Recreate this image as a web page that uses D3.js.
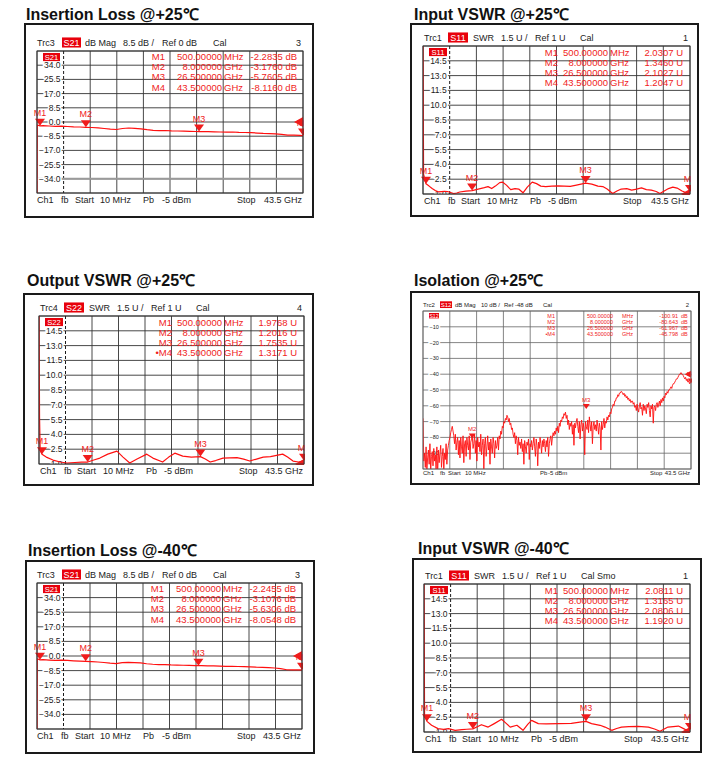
<!DOCTYPE html>
<html>
<head>
<meta charset="utf-8">
<script src="https://cdn.jsdelivr.net/npm/d3@7"></script>
<style>
body { margin: 0; background: #fff; }
svg { display: block; font-family: "Liberation Sans", Arial, sans-serif; }
</style>
</head>
<body>
<div id="chart"></div>
<script>
/***** Data *****/
var startGHz = 0.01, stopGHz = 43.5;

var markerNames = ["M1", "M2", "M3", "M4"];
var markerNamesActive = ["M1", "M2", "M3", "\u2022M4"];
var markerGHz = [0.5, 8, 26.5, 43.5];
var markerFreqText = ["500.00000", "8.000000", "26.500000", "43.500000"];
var markerUnits = ["MHz", "GHz", "GHz", "GHz"];

var ilTicks = [34, 25.5, 17, 8.5, 0, -8.5, -17, -25.5, -34];
var swrTicks = [14.5, 13, 11.5, 10, 8.5, 7, 5.5, 4, 2.5, 1];
var isoTicks = [-10, -20, -30, -40, -50, -60, -70, -80, -90];

var il25Head = ["Trc3", "S21", "dB Mag", "8.5 dB /", "Ref 0 dB", "Cal", "3"];
var s11Head25 = ["Trc1", "S11", "SWR", "1.5 U /", "Ref 1 U", "Cal", "1"];
var s22Head25 = ["Trc4", "S22", "SWR", "1.5 U /", "Ref 1 U", "Cal", "4"];
var isoHead = ["Trc2", "S12", "dB Mag", "10 dB /", "Ref -48 dB", "Cal", "2"];
var il40Head = ["Trc3", "S21", "dB Mag", "8.5 dB /", "Ref 0 dB", "Cal", "3"];
var s11Head40 = ["Trc1", "S11", "SWR", "1.5 U /", "Ref 1 U", "Cal Smo", "1"];
var footText = ["Ch1", "fb", "Start", "10 MHz", "Pb", "-5 dBm", "Stop", "43.5 GHz"];

var il25Read = ["-2.2835", "-3.1760", "-5.7605", "-8.1160"];
var s11Read25 = ["2.0307", "1.3460", "2.1027", "1.2047"];
var s22Read25 = ["1.9768", "1.2016", "1.7535", "1.3171"];
var isoRead = ["-100.91", "-80.643", "-61.967", "-45.798"];
var il40Read = ["-2.2455", "-3.1076", "-5.6306", "-8.0548"];
var s11Read40 = ["2.0811", "1.3165", "2.0806", "1.1920"];

// [GHz, dB]
var il25Trace = [[0.01,-45],[0.05,-1.8],[0.5,-2.28],[1,-2.2],[2,-2.4],[3,-2.6],[4,-2.5],[5,-2.7],
  [6,-2.9],[7,-3.0],[8,-3.18],[9,-3.3],[10,-3.5],[11,-3.9],[12,-4.3],[13,-4.5],[14,-3.9],[15,-3.6],
  [16,-3.8],[17,-4.1],[18,-4.6],[19,-5.0],[20,-5.2],[21,-5.1],[22,-5.3],[23,-5.4],[24,-5.5],
  [25,-5.6],[26,-5.7],[26.5,-5.76],[27,-5.7],[28,-5.8],[29,-5.9],[30,-6.0],[31,-6.1],[32,-6.0],
  [33,-6.2],[34,-6.3],[35,-6.4],[36,-6.6],[37,-6.8],[38,-6.9],[39,-7.1],[40,-7.4],[41,-7.8],
  [42,-7.9],[43,-8.0],[43.5,-8.12]];

var il40Trace = [[0.01,-45],[0.05,-1.6],[0.5,-2.25],[1,-2.15],[2,-2.35],[3,-2.5],[4,-2.45],[5,-2.6],
  [6,-2.8],[7,-2.95],[8,-3.11],[9,-3.3],[10,-3.5],[11,-3.8],[12,-4.2],[13,-4.4],[14,-3.9],[15,-3.7],
  [16,-3.8],[17,-4.0],[18,-4.5],[19,-4.8],[20,-5.0],[21,-5.0],[22,-5.2],[23,-5.3],[24,-5.4],
  [25,-5.5],[26,-5.6],[26.5,-5.63],[27,-5.6],[28,-5.7],[29,-5.8],[30,-5.9],[31,-6.0],[32,-6.0],
  [33,-6.1],[34,-6.2],[35,-6.3],[36,-6.5],[37,-6.6],[38,-6.8],[39,-7.0],[40,-7.4],[41,-8.0],
  [42,-8.1],[43,-8.0],[43.5,-8.05]];

// [GHz, SWR]
var s11Trace25 = [[0.01,17],[0.1,3.0],[0.5,2.03],[1.0,1.8],[1.5,1.55],[2.0,1.35],[2.5,1.22],[3.0,1.25],
  [3.5,1.28],[4.0,1.25],[4.5,1.15],[5.0,1.05],[5.5,1.1],[6,1.2],[7,1.3],[8,1.35],[9,1.5],[10,1.65],
  [10.6,1.75],[11.2,1.55],[11.8,1.8],[12.5,2.15],[13,2.2],[13.6,1.9],[14.3,1.45],[15,1.55],
  [15.6,1.5],[16.3,1.12],[17,1.7],[17.8,2.2],[18.5,2.05],[19.2,1.8],[20,1.75],[21,1.8],[22,1.82],
  [23,1.8],[24,1.78],[25,1.9],[26.5,2.10],[27.5,2.0],[28.5,1.8],[29.3,1.75],[30,1.5],[30.9,1.05],
  [31.6,1.3],[32.3,1.5],[33.2,1.55],[34,1.4],[34.8,1.5],[35.6,1.62],[36.4,1.45],[37.2,1.4],
  [38,1.25],[38.6,1.05],[39.3,1.3],[40,1.55],[40.7,1.7],[41.4,1.6],[42.2,1.3],[43,1.1],[43.5,1.2]];

var s22Trace25 = [[0.01,17],[0.1,5.7],[0.2,2.4],[0.5,1.98],[1.2,1.7],[2.3,1.4],[3.5,1.2],[4.6,1.1],
  [5.9,1.15],[7,1.18],[8,1.20],[9,1.4],[10,1.6],[11.3,2.0],[12.8,2.3],[13.8,1.7],[14.9,1.1],
  [16.1,1.5],[17.7,2.0],[18.7,1.6],[20.3,1.2],[21.3,1.7],[22.3,2.1],[23.6,1.8],[25,1.7],
  [26.5,1.75],[27.3,1.5],[28.1,1.2],[29,1.35],[30.2,1.6],[31.3,1.62],[32.5,1.65],[33.6,1.5],
  [34.6,1.3],[35.7,1.5],[36.8,1.7],[38,1.75],[39.2,1.9],[40,2.0],[40.8,1.7],[41.7,1.3],
  [42.6,1.2],[43.5,1.32]];

var s11Trace40 = [[0.01,17],[0.1,2.6],[0.5,2.08],[1.25,1.68],[2.3,1.34],[3.2,1.27],[4,1.34],[5.1,1.17],
  [6.2,1.24],[7,1.28],[8,1.32],[8.8,1.55],[9.4,1.74],[10.5,1.5],[11.5,1.85],[12.7,2.29],[13.4,1.9],
  [14.1,1.5],[15.2,1.68],[16.2,1.17],[17,1.8],[17.6,2.18],[18.7,1.85],[20,1.82],[22,1.85],
  [24.1,1.88],[25.5,2.0],[26.5,2.08],[27.4,1.85],[28.8,1.68],[29.6,1.5],[30.7,1.17],[31.5,1.35],
  [32.3,1.5],[33.5,1.55],[35,1.57],[36.7,1.5],[37.7,1.3],[38.6,1.07],[39.9,1.5],[41.6,1.6],
  [42.7,1.27],[43.5,1.19]];

// S12 sweep, evenly spaced points from start to stop (dB), 16 points per 2 GHz
var isoValues = [
  -68, -95, -90, -99, -86, -102, -93, -88, -97, -84, -101, -92, -89, -98, -87, -95,
  -91, -100, -86, -104, -88, -96, -90, -85, -99, -92, -87, -101, -90, -94, -84, -97,
  -88, -85, -82, -80, -77, -75, -73, -76, -79, -84, -78, -88, -83, -80, -91, -82,
  -93, -80, -86, -90, -79, -96, -84, -82, -92, -80, -85, -88, -79, -94, -83, -81,
  -79, -87, -84, -78, -90, -82, -95, -80, -86, -83, -89, -78, -91, -85, -81, -100,
  -84, -80, -92, -86, -79, -88, -83, -97, -81, -86, -90, -80, -84, -93, -82, -87,
  -85, -80, -88, -79, -81, -76, -78, -73, -74, -70, -71, -68, -69, -66, -67, -70,
  -68, -72, -71, -75, -74, -78, -80, -77, -84, -79, -82, -91, -80, -85, -83, -87,
  -81, -89, -84, -97, -82, -86, -90, -83, -85, -81, -94, -84, -86, -82, -88, -84,
  -80, -86, -92, -81, -85, -98, -83, -87, -80, -84, -90, -82, -86, -81, -84, -89,
  -82, -86, -80, -92, -84, -81, -79, -85, -80, -77, -79, -76, -78, -74, -76, -73,
  -77, -71, -73, -69, -70, -67, -68, -65, -66, -64, -68, -66, -72, -69, -75, -71,
  -73, -70, -78, -72, -85, -71, -74, -70, -68, -73, -77, -70, -81, -72, -69, -76,
  -71, -74, -91, -70, -73, -75, -69, -77, -67, -72, -76, -70, -84, -73, -70, -75,
  -72, -76, -69, -73, -78, -71, -74, -88, -70, -75, -72, -68, -74, -70, -71, -67,
  -69, -66, -67, -64, -65, -62, -61, -59, -60, -57, -57, -55, -55, -53, -54, -52,
  -52, -51, -51, -52, -53, -52, -54, -53, -55, -54, -56, -55, -57, -56, -58, -57,
  -57, -59, -58, -61, -60, -63, -59, -62, -64, -60, -58, -62, -61, -66, -59, -63,
  -60, -62, -65, -59, -61, -58, -63, -67, -60, -62, -59, -71, -61, -60, -63, -59,
  -58, -61, -59, -57, -60, -56, -58, -55, -57, -54, -55, -52, -53, -51, -52, -50,
  -50, -49, -48, -49, -47, -46, -46, -45, -44, -43, -43, -42, -41, -40, -40, -39,
  -40, -40, -41, -42, -43, -42, -44, -43, -45, -44, -46, -45, -46];

/***** Styles per trace kind *****/
var kinds = {
  il: { yDomain: [-42.5, 42.5], div: 8.5, ref: 0, fmt: d3.format(".1f"), unit: "dB",
        headDx: [0, 25, 48, 86, 125, 176], badgeW: 19, footDx: [0, 24, 38, 63, 106, 125, 200],
        fs: 9, tfs: 9.5, lfs: 8.5, labelGap: 3, grid: "#333", gridW: 0.9, dashedAxis: true,
        cols: [138, 81, 79, 6], rowTop: 9, rowH: 10.2, headY: 5, footY: 10, tri: 5, mfs: 9 },
  swr: { yDomain: [1, 16], div: 1.5, ref: 1, fmt: d3.format(".1f"), unit: "U",
        headDx: [1, 25, 50, 78, 112, 157], badgeW: 20, footDx: [1, 25, 38, 64, 107, 125, 200],
        fs: 9, tfs: 9.5, lfs: 8.5, labelGap: 3, grid: "#333", gridW: 0.9, dashedAxis: true,
        cols: [132, 82, 80, 7], rowTop: 9.5, rowH: 10, headY: 5, footY: 10, tri: 5, mfs: 9 },
  iso: { yDomain: [-100, 0], div: 10, ref: -40, fmt: d3.format("d"), unit: "dB",
        headDx: [0, 17, 32, 58, 81, 120], badgeW: 12, footDx: [0, 17, 25, 42, 117, 125, 227],
        fs: 6, tfs: 5.5, lfs: 5.5, labelGap: 11, grid: "#666", gridW: 0.8, dashedAxis: false,
        cols: [136, 78, 69, 13, 10], rowTop: 7, rowH: 5.9, headY: 4, footY: 6, tri: 3.5, mfs: 6 }
};

var panels = [
  { title: "Insertion Loss @+25\u2103", tx: 26, ty: 20, box: [25, 24, 313, 217], grid: [37, 51, 303, 193],
    kind: "il", head: il25Head, ticks: ilTicks, names: markerNames, read: il25Read, trace: il25Trace, limit: -34 },
  { title: "Input VSWR @+25\u2103", tx: 414, ty: 20, box: [411, 24, 698, 216], grid: [423, 46, 690, 194],
    kind: "swr", head: s11Head25, ticks: swrTicks, names: markerNames, read: s11Read25, trace: s11Trace25 },
  { title: "Output VSWR @+25\u2103", tx: 27, ty: 286, box: [24, 294, 313, 485], grid: [39, 316, 304, 464],
    kind: "swr", head: s22Head25, ticks: swrTicks, names: markerNamesActive, read: s22Read25, trace: s22Trace25 },
  { title: "Isolation @+25\u2103", tx: 414, ty: 286, box: [411, 292, 699, 484], grid: [423, 311, 691, 469],
    kind: "iso", head: isoHead, ticks: isoTicks, names: markerNamesActive, read: isoRead,
    trace: isoValues.map(function (v, i) { return [startGHz + i * (stopGHz - startGHz) / (isoValues.length - 1), v]; }) },
  { title: "Insertion Loss @-40\u2103", tx: 28, ty: 556, box: [26, 561, 314, 753], grid: [37, 583, 302, 729],
    kind: "il", head: il40Head, ticks: ilTicks, names: markerNames, read: il40Read, trace: il40Trace },
  { title: "Input VSWR @-40\u2103", tx: 418, ty: 554, box: [413, 559, 701, 752], grid: [424, 584, 690, 732],
    kind: "swr", head: s11Head40, ticks: swrTicks, names: markerNames, read: s11Read40, trace: s11Trace40 }
];

var RED = "#f01c1c";

function drawPanel(svg, p, s, k) {
    var gl = p.grid[0], gt = p.grid[1], gr = p.grid[2], gb = p.grid[3];
    var x = d3.scaleLinear().domain([startGHz, stopGHz]).range([gl, gr]);
    var y = d3.scaleLinear().domain(s.yDomain).range([gb, gt]);
    var g = svg.append("g");

    var defs = g.append("defs");
    defs.append("clipPath").attr("id", "gc" + k).append("rect")
        .attr("x", gl).attr("y", gt).attr("width", gr - gl).attr("height", gb - gt);
    defs.append("clipPath").attr("id", "mc" + k).append("rect")
        .attr("x", gl - 7).attr("y", gt).attr("width", gr - gl + 8).attr("height", gb - gt + 1);

    g.append("text")
     .attr("x", p.tx).attr("y", p.ty)
     .attr("font-size", 16).attr("font-weight", "bold").attr("fill", "#111")
     .text(p.title);

    g.append("rect")
     .attr("x", p.box[0]).attr("y", p.box[1])
     .attr("width", p.box[2] - p.box[0]).attr("height", p.box[3] - p.box[1])
     .attr("fill", "#fff").attr("stroke", "#1a1a1a").attr("stroke-width", 2);

    /***** grid *****/
    var xDiv = d3.range(11).map(function (i) { return startGHz + i * (stopGHz - startGHz) / 10; });
    var yDiv = d3.range(11).map(function (i) { return s.yDomain[0] + i * s.div; });

    g.selectAll(null).data(yDiv).enter().append("line")
     .attr("x1", gl).attr("x2", gr)
     .attr("y1", function (d) { return y(d); }).attr("y2", function (d) { return y(d); })
     .attr("stroke", s.grid).attr("stroke-width", s.gridW);

    g.selectAll(null).data(xDiv).enter().append("line")
     .attr("x1", function (d) { return x(d); }).attr("x2", function (d) { return x(d); })
     .attr("y1", gt).attr("y2", gb)
     .attr("stroke", function (d, i) { return (i == 1 && s.dashedAxis) ? "#000" : s.grid; })
     .attr("stroke-width", s.gridW)
     .attr("stroke-dasharray", function (d, i) { return (i == 1 && s.dashedAxis) ? "3,2" : null; });

    if (p.limit !== undefined) {
        g.append("line")
         .attr("x1", gl).attr("x2", gr).attr("y1", y(p.limit)).attr("y2", y(p.limit))
         .attr("stroke", "#9a9a9a").attr("stroke-width", 2);
    }

    // y labels
    g.append("g").attr("clip-path", "url(#gc" + k + ")")
     .selectAll("text").data(p.ticks).enter().append("text")
     .attr("x", x(xDiv[1]) - s.labelGap)
     .attr("y", function (d) { return y(d); })
     .attr("dy", "0.36em")
     .attr("text-anchor", "end")
     .attr("font-size", s.lfs)
     .attr("fill", "#222")
     .attr("stroke", "#fff").attr("stroke-width", 3).attr("paint-order", "stroke")
     .text(function (d) { return s.fmt(d); });

    /***** header *****/
    var hy = gt - s.headY;
    var head = g.append("g").attr("font-size", s.fs).attr("fill", "#222");
    p.head.slice(0, 6).forEach(function (t, i) {
        if (i == 1) {
            head.append("rect")
                .attr("x", gl + s.headDx[1]).attr("y", hy - s.fs * 0.95)
                .attr("width", s.badgeW).attr("height", s.fs * 1.12)
                .attr("fill", "#e8000b");
            head.append("text")
                .attr("x", gl + s.headDx[1] + s.badgeW / 2).attr("y", hy)
                .attr("text-anchor", "middle").attr("fill", "#fff").text(t);
        } else {
            head.append("text").attr("x", gl + s.headDx[i]).attr("y", hy).text(t);
        }
    });
    head.append("text").attr("x", gr - 2).attr("y", hy).attr("text-anchor", "end").text(p.head[6]);

    // badge inside the grid
    g.append("rect")
     .attr("x", gl + 6).attr("y", gt + 2)
     .attr("width", s.badgeW - 2).attr("height", s.fs * 0.9)
     .attr("fill", "#e8000b");
    g.append("text")
     .attr("x", gl + 6 + (s.badgeW - 2) / 2).attr("y", gt + 2 + s.fs * 0.75)
     .attr("text-anchor", "middle").attr("font-size", s.fs * 0.85).attr("fill", "#fff")
     .text(p.head[1]);

    /***** footer *****/
    var fy = gb + s.footY;
    var foot = g.append("g").attr("font-size", s.fs).attr("fill", "#222");
    footText.slice(0, 7).forEach(function (t, i) {
        foot.append("text").attr("x", gl + s.footDx[i]).attr("y", fy).text(t);
    });
    foot.append("text").attr("x", gr - 1).attr("y", fy).attr("text-anchor", "end").text(footText[7]);

    /***** marker table *****/
    var tab = g.append("g").attr("font-size", s.tfs).attr("fill", RED);
    p.names.forEach(function (n, i) {
        var ty = gt + s.rowTop + i * s.rowH;
        tab.append("text").attr("x", gr - s.cols[0]).attr("y", ty).attr("text-anchor", "end").text(n);
        tab.append("text").attr("x", gr - s.cols[1]).attr("y", ty).attr("text-anchor", "end").text(markerFreqText[i]);
        tab.append("text").attr("x", gr - s.cols[2]).attr("y", ty).text(markerUnits[i]);
        if (s.cols.length > 4) {
            tab.append("text").attr("x", gr - s.cols[3]).attr("y", ty).attr("text-anchor", "end").text(p.read[i]);
            tab.append("text").attr("x", gr - s.cols[4]).attr("y", ty).text(s.unit);
        } else {
            tab.append("text").attr("x", gr - s.cols[3]).attr("y", ty).attr("text-anchor", "end")
               .text(p.read[i] + " " + s.unit);
        }
    });

    /***** trace *****/
    var line = d3.line()
                 .x(function (d) { return x(d[0]); })
                 .y(function (d) { return y(d[1]); });
    g.append("path")
     .datum(p.trace)
     .attr("clip-path", "url(#gc" + k + ")")
     .attr("d", line)
     .attr("fill", "none")
     .attr("stroke", "#ff1010")
     .attr("stroke-width", p.kind == "iso" ? 0.9 : 1.2)
     .attr("stroke-linejoin", "round");

    /***** markers *****/
    var mk = g.append("g").attr("clip-path", "url(#mc" + k + ")");
    var r = s.tri;
    markerGHz.forEach(function (f, i) {
        var v = parseFloat(p.read[i]);
        if (v < s.yDomain[0] || v > s.yDomain[1]) return;
        var mx = x(f), my = y(v);
        mk.append("path")
          .attr("d", "M" + (mx - r) + "," + (my - r * 1.4) + "L" + (mx + r) + "," + (my - r * 1.4) + "L" + mx + "," + my + "Z")
          .attr("fill", RED);
        mk.append("text")
          .attr("x", mx).attr("y", my - r * 2)
          .attr("text-anchor", "middle").attr("font-size", s.mfs).attr("fill", RED)
          .text(markerNames[i]);
    });

    // reference level arrow on the right edge
    var ry = y(s.ref);
    g.append("path")
     .attr("clip-path", "url(#mc" + k + ")")
     .attr("d", "M" + (gr - r * 1.8) + "," + ry + "L" + gr + "," + (ry - r) + "L" + gr + "," + (ry + r) + "Z")
     .attr("fill", RED);

    // grid frame
    g.append("rect")
     .attr("x", gl).attr("y", gt).attr("width", gr - gl).attr("height", gb - gt)
     .attr("fill", "none").attr("stroke", s.grid).attr("stroke-width", s.gridW);
}

var svg = d3.select("#chart").append("svg").attr("width", 723).attr("height", 772);
panels.forEach(function (p, k) { drawPanel(svg, p, kinds[p.kind], k); });
</script>
</body>
</html>
